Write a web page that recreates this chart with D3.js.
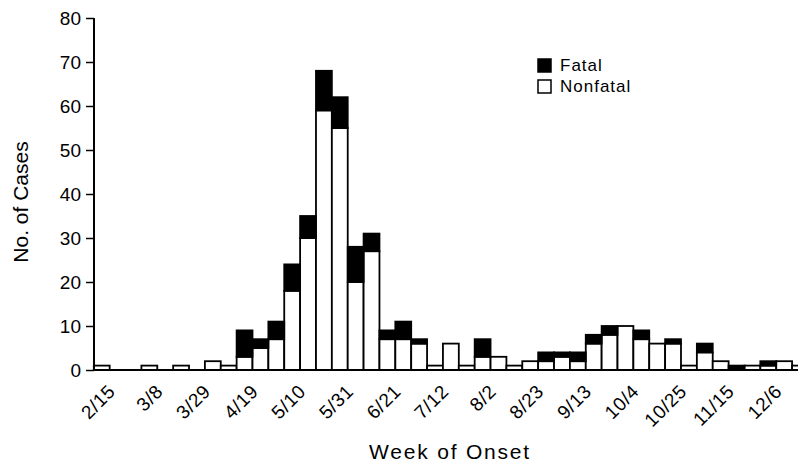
<!DOCTYPE html>
<html>
<head>
<meta charset="utf-8">
<script src="https://cdn.jsdelivr.net/npm/d3@7"></script>
<style>
  body { margin: 0; background: #fff; }
  svg { display: block; font-family: "Liberation Sans", Arial, Helvetica, sans-serif; }
</style>
</head>
<body>
<div id="chart"></div>
<script>
// Semaines d'apparition (une barre par semaine)
var weeks = ["2/15","2/22","3/1","3/8","3/15","3/22","3/29","4/5","4/12","4/19",
  "4/26","5/3","5/10","5/17","5/24","5/31","6/7","6/14","6/21","6/28",
  "7/5","7/12","7/19","7/26","8/2","8/9","8/16","8/23","8/30","9/6",
  "9/13","9/20","9/27","10/4","10/11","10/18","10/25","11/1","11/8","11/15",
  "11/22","11/29","12/6","12/13","12/20"];

var nonfatal = [1,0,0,1,0,1,0,2,1,3, 5,7,18,30,59,55,20,27,7,7,
  6,1,6,1,3,3,1,2,2,3, 2,6,8,10,7,6,6,1,4,2, 0,1,1,2,1];

var fatal = [0,0,0,0,0,0,0,0,0,6, 2,4,6,5,9,7,8,4,2,4,
  1,0,0,0,4,0,0,0,2,1, 2,2,2,0,2,0,1,0,2,0, 1,0,1,0,0];

var tickLabels = ["2/15","3/8","3/29","4/19","5/10","5/31","6/21","7/12",
  "8/2","8/23","9/13","10/4","10/25","11/15","12/6"];
var yTicks = [0,10,20,30,40,50,60,70,80];

(function() {
  var W = 798, H = 463;
  var left = 94, base = 370, topY = 18;

  var svg = d3.select("#chart").append("svg")
    .attr("width", W).attr("height", H);

  var x = d3.scaleBand().domain(weeks)
    .range([93.8, 93.8 + weeks.length * 15.87]).padding(0);
  var y = d3.scaleLinear().domain([0, 80]).range([base, topY]);

  // empilement : non mortel en bas, mortel au-dessus
  var rows = weeks.map(function(w, i) {
    return { week: w, nonfatal: nonfatal[i], fatal: fatal[i] };
  });
  var stack = d3.stack().keys(["nonfatal", "fatal"])(rows);

  svg.append("g").selectAll("g")
    .data(stack).enter().append("g")
    .attr("fill", function(d) { return d.key === "fatal" ? "#000" : "#fff"; })
    .selectAll("rect")
    .data(function(d) { return d.filter(function(p) { return p[1] > p[0]; }); })
    .enter().append("rect")
    .attr("x", function(d) { return x(d.data.week); })
    .attr("width", x.bandwidth())
    .attr("y", function(d) { return y(d[1]); })
    .attr("height", function(d) { return y(d[0]) - y(d[1]); })
    .attr("stroke", "#000")
    .attr("stroke-width", 1.8);

  // axe Y
  var yAxis = d3.axisLeft(y).tickValues(yTicks).tickSize(8).tickPadding(5);
  var gy = svg.append("g").attr("transform", "translate(" + left + ",0)").call(yAxis);
  gy.select(".domain").attr("stroke-width", 2).attr("d", "M0," + topY + "V" + base);
  gy.selectAll(".tick line").attr("stroke-width", 1.5);
  gy.selectAll("text").attr("font-size", 19).attr("fill", "#000");

  // axe X
  var xAxis = d3.axisBottom(x).tickValues(tickLabels).tickSize(0).tickPadding(0);
  var gx = svg.append("g").attr("transform", "translate(0," + base + ")").call(xAxis);
  gx.select(".domain").attr("stroke-width", 2.2).attr("d", "M" + left + ",0H" + (W + 20));
  gx.selectAll("text")
    .attr("font-size", 19)
    .attr("letter-spacing", 0.5)
    .attr("fill", "#000")
    .attr("text-anchor", "end")
    .attr("transform", "translate(10,18) rotate(-45)")
    .attr("dy", "0.35em")
    .attr("y", 0);

  // titres
  svg.append("text")
    .attr("x", 450).attr("y", 459)
    .attr("text-anchor", "middle")
    .attr("font-size", 21)
    .attr("letter-spacing", 1.8)
    .text("Week of Onset");

  svg.append("text")
    .attr("transform", "translate(28,202) rotate(-90)")
    .attr("text-anchor", "middle")
    .attr("font-size", 21)
    .text("No. of Cases");

  // légende
  var legend = [["Fatal", "#000"], ["Nonfatal", "#fff"]];
  var lg = svg.append("g").attr("transform", "translate(538,59)");
  lg.selectAll("rect").data(legend).enter().append("rect")
    .attr("x", 0).attr("y", function(d, i) { return i * 21; })
    .attr("width", 13).attr("height", 13)
    .attr("fill", function(d) { return d[1]; })
    .attr("stroke", "#000").attr("stroke-width", 1.5);
  lg.selectAll("text").data(legend).enter().append("text")
    .attr("x", 22).attr("y", function(d, i) { return i * 21 + 12; })
    .attr("font-size", 17)
    .attr("letter-spacing", 1)
    .text(function(d) { return d[0]; });
})();
</script>
</body>
</html>
